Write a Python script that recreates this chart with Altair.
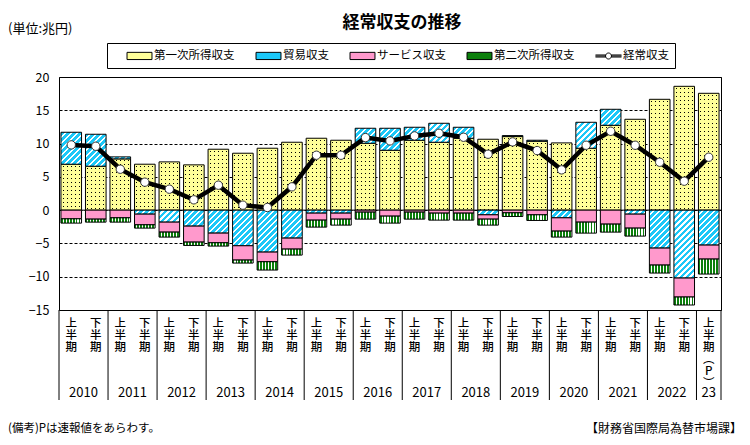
import altair as alt

FONT = "Noto Sans CJK JP"

# ---------------- data ----------------
periods = ["2010上", "2010下", "2011上", "2011下", "2012上", "2012下", "2013上", "2013下",
           "2014上", "2014下", "2015上", "2015下", "2016上", "2016下", "2017上", "2017下",
           "2018上", "2018下", "2019上", "2019下", "2020上", "2020下", "2021上", "2021下",
           "2022上", "2022下", "2023上"]
year_starts = ["2010上", "2011上", "2012上", "2013上", "2014上", "2015上", "2016上",
               "2017上", "2018上", "2019上", "2020上", "2021上", "2022上", "2023上"]
year_labels = ["2010", "2011", "2012", "2013", "2014", "2015", "2016",
               "2017", "2018", "2019", "2020", "2021", "2022", "23"]

series_names = ["第一次所得収支", "貿易収支", "サービス収支", "第二次所得収支", "経常収支"]

primary = [6.9, 6.6, 7.7, 6.9, 7.25, 6.8, 9.15, 8.55, 9.3, 10.2, 10.8, 10.5, 10.05, 9.0,
           10.5, 10.2, 10.8, 10.65, 11.05, 10.35, 10.1, 9.3, 12.75, 13.65, 16.65, 18.6, 17.55]
trade = [4.8, 4.8, 0.3, -0.6, -1.8, -2.4, -3.45, -5.35, -6.3, -4.2, -0.45, -0.45, 2.25, 3.3,
         1.95, 2.85, 1.65, -0.7, 0.15, 0.15, -1.15, 3.9, 2.4, -0.6, -5.7, -10.2, -5.25]
services = [-1.3, -1.35, -1.15, -1.6, -1.5, -2.4, -1.45, -2.15, -1.45, -1.65, -1.05, -0.9,
            -0.3, -0.9, -0.3, -0.45, -0.45, -0.65, -0.4, -0.7, -2.0, -1.8, -2.1, -2.1,
            -2.55, -2.85, -2.1]
secondary = [-0.65, -0.45, -0.65, -0.5, -0.75, -0.5, -0.5, -0.45, -1.25, -0.9, -1.05, -0.9,
             -1.05, -1.05, -1.05, -1.05, -1.05, -0.9, -0.55, -0.85, -0.9, -1.65, -1.2, -1.2,
             -1.2, -1.2, -2.25]
current = [9.8, 9.6, 6.15, 4.2, 3.15, 1.55, 3.75, 0.75, 0.4, 3.5, 8.25, 8.25, 10.9, 10.4,
           11.15, 11.55, 10.95, 8.4, 10.25, 8.95, 6.05, 9.75, 11.85, 9.75, 7.2, 4.35, 7.95]

# ---------------- style ----------------
YEL = "#FFFF99"
CYAN = "#1CC8F8"
PINK = "#FF99CC"
GREEN = "#0B7F0B"

W, H = 662, 233
YMIN, YMAX = -15, 20
PPU = H / (YMAX - YMIN)          # pixels per unit (for pattern sizing)
BAR_FRAC = 0.84
BW = W / len(periods) * BAR_FRAC  # bar width in pixels


def r(v):
    return round(v, 4)


def diag_gradient(h, period=6.0, gap=2.2):
    """cyan with white '/' hatching, sized to the bar in pixels"""
    w = BW
    h = max(h, 0.5)
    L = w + h
    k = L / (w * w + h * h)
    stops = []
    x = 0.0
    while x < L:
        a = x / L
        b = min((x + period - gap) / L, 1.0)
        c = min((x + period) / L, 1.0)
        stops += [{"offset": r(a), "color": CYAN}, {"offset": r(b), "color": CYAN}]
        if b < 1.0:
            stops += [{"offset": r(b), "color": "#ffffff"}, {"offset": r(c), "color": "#ffffff"}]
        x += period
    return {"gradient": "linear", "x1": 0, "y1": 0, "x2": r(k * w), "y2": r(k * h), "stops": stops}


def rows_gradient(h, period=4.0):
    """yellow with thin black rows (combined with column mask -> dots)"""
    h = max(h, 0.5)
    stops = [{"offset": 0, "color": YEL}]
    y = 1.5
    while y + 1.0 < h:
        a, b = r(y / h), r((y + 1.0) / h)
        stops += [{"offset": a, "color": YEL}, {"offset": a, "color": "#000000"},
                  {"offset": b, "color": "#000000"}, {"offset": b, "color": YEL}]
        y += period
    stops.append({"offset": 1, "color": YEL})
    return {"gradient": "linear", "x1": 0, "y1": 0, "x2": 0, "y2": 1, "stops": stops}


# yellow overlay with transparent columns
col_stops = []
cx = 0.0
while cx < BW:
    a = min((cx + 1.8) / BW, 1.0)
    b = min((cx + 2.8) / BW, 1.0)
    col_stops += [alt.GradientStop(offset=r(cx / BW), color=YEL), alt.GradientStop(offset=r(a), color=YEL),
                  alt.GradientStop(offset=r(a), color="rgba(255,255,153,0)"),
                  alt.GradientStop(offset=r(b), color="rgba(255,255,153,0)"),
                  alt.GradientStop(offset=r(b), color=YEL)]
    cx += 4.0
col_stops.append(alt.GradientStop(offset=1, color=YEL))
col_grad = alt.LinearGradient(gradient="linear", x1=0, y1=0, x2=1, y2=0, stops=col_stops)

# green with white vertical stripes
g_stops = []
n_str = 7
for j in range(n_str):
    a, b, c = j / n_str, (j + 0.62) / n_str, (j + 1) / n_str
    g_stops += [alt.GradientStop(offset=r(a), color=GREEN), alt.GradientStop(offset=r(b), color=GREEN),
                alt.GradientStop(offset=r(b), color="#ffffff"), alt.GradientStop(offset=r(c), color="#ffffff")]
green_grad = alt.LinearGradient(gradient="linear", x1=0, y1=0, x2=1, y2=0, stops=g_stops)

# ---------------- table ----------------
records = []
for i, p in enumerate(periods):
    for k, (key, vals) in enumerate([("primary", primary), ("trade", trade),
                                     ("services", services), ("secondary", secondary)]):
        v = vals[i]
        rec = {"period": p, "s": key, "order": k, "value": v}
        if key == "trade":
            rec["g"] = diag_gradient(abs(v) * PPU)
        elif key == "primary":
            rec["g"] = rows_gradient(abs(v) * PPU)
        records.append(rec)

ca_rows = [{"period": p, "ca": v} for p, v in zip(periods, current)]
year_rows = [{"period": p, "y": t} for p, t in zip(year_starts, year_labels)]

# ---------------- encodings ----------------
label_expr = ("datum.value == '2023上' ? ['上','半','期','︵','P','︶'] : "
              "(indexof(datum.value, '上') >= 0 ? ['上','半','期'] : ['下','半','期'])")
xscale = alt.Scale(domain=periods, paddingInner=0, paddingOuter=0)
xaxis = alt.Axis(title=None, labelExpr=label_expr, labelAngle=0, labelBaseline="top",
                 labelPadding=7, labelLineHeight=12, labelFont=FONT, labelFontSize=11.5,
                 labelFontWeight=500, labelColor="black", ticks=False, domain=False, grid=False,
                 labelOverlap=False)
X = alt.X("period:N", scale=xscale, axis=xaxis)

yscale = alt.Scale(domain=[YMIN, YMAX], nice=False, zero=False)
yaxis = alt.Axis(title=None, values=list(range(-15, 21, 5)), grid=True, gridColor="black",
                 gridDash=[3, 2], gridWidth=1, ticks=False, domain=False, labelPadding=10,
                 labelFont=FONT, labelFontSize=12.5, labelColor="black")

base = alt.Chart(alt.Data(values=records)).transform_stack(
    stack="value", groupby=["period"], as_=["v0", "v1"], sort=[alt.SortField(field="order")]
)


def bars(key, **mark):
    return base.transform_filter(alt.datum.s == key).mark_bar(
        width=alt.RelativeBandSize(BAR_FRAC), **mark
    ).encode(x=X, y=alt.Y("v0:Q", scale=yscale, axis=yaxis), y2="v1:Q")


prim_rows = bars("primary", strokeWidth=0).encode(fill=alt.Fill("g:N", scale=None))
prim_cols = bars("primary", fill=col_grad, stroke="black", strokeWidth=1)
trade_bar = bars("trade", stroke="black", strokeWidth=1).encode(fill=alt.Fill("g:N", scale=None))
serv_bar = bars("services", fill=PINK, stroke="black", strokeWidth=1)
sec_bar = bars("secondary", fill=green_grad, stroke="black", strokeWidth=1)

zero_rule = alt.Chart(alt.Data(values=[{"z": 0}])).mark_rule(color="black", strokeWidth=1).encode(
    y=alt.Y("z:Q", scale=yscale, axis=yaxis)
)

ca_line = alt.Chart(alt.Data(values=ca_rows)).mark_line(color="black", strokeWidth=4.5).encode(
    x=X, y=alt.Y("ca:Q", scale=yscale, axis=yaxis)
)
ca_pts = alt.Chart(alt.Data(values=ca_rows)).mark_point(
    shape="circle", filled=True, fill="white", stroke="#333333", strokeWidth=1, size=70, opacity=1
).encode(x=X, y=alt.Y("ca:Q", scale=yscale, axis=yaxis))

# legend (from an empty layer carrying fill + shape scales)
RECT = "M-2.08,-0.6H2.08V0.6H-2.08Z"
LINE_SYM = ("M-2.17,-0.17H-0.5M-2.17,0H-0.5M-2.17,0.17H-0.5"
            "M0.5,-0.17H2.17M0.5,0H2.17M0.5,0.17H2.17"
            "M0.5,0A0.5,0.5,0,1,1,-0.5,0A0.5,0.5,0,1,1,0.5,0Z")
leg = alt.Legend(title=None, orient="none", legendX=48, legendY=-34, direction="horizontal",
                 columns=5, padding=6, strokeColor="black", fillColor="white",
                 symbolSize=144, symbolStrokeColor="black", symbolStrokeWidth=1, symbolOpacity=1,
                 symbolOffset=20, labelOffset=8, columnPadding=7, labelFont=FONT,
                 labelFontSize=11.5, labelColor="black", labelLimit=300)
legend_layer = alt.Chart(alt.Data(values=[{"series": n} for n in series_names])).transform_filter(
    "false"
).mark_point(filled=True).encode(
    fill=alt.Fill("series:N", scale=alt.Scale(domain=series_names,
                                              range=[YEL, CYAN, PINK, GREEN, "white"]), legend=leg),
    shape=alt.Shape("series:N", scale=alt.Scale(domain=series_names,
                                                range=[RECT, RECT, RECT, RECT, LINE_SYM]), legend=leg),
)

# separators and year labels below the axis
seps = alt.Chart(alt.Data(values=[{"period": p} for p in year_starts])).mark_rule(
    color="black", strokeWidth=1
).encode(x=alt.X("period:N", scale=xscale, axis=xaxis, bandPosition=0),
         y=alt.value(H), y2=alt.value(H + 90))
sep_end = alt.Chart(alt.Data(values=[{"e": 1}])).mark_rule(color="black", strokeWidth=1).encode(
    x=alt.value(W), y=alt.value(H), y2=alt.value(H + 90)
)
years_full = alt.Chart(alt.Data(values=year_rows[:-1])).mark_text(
    font=FONT, fontSize=13, color="black", baseline="middle", dx=W / len(periods) / 2
).encode(x=X, y=alt.value(H + 82.5), text="y:N")
years_last = alt.Chart(alt.Data(values=year_rows[-1:])).mark_text(
    font=FONT, fontSize=13, color="black", baseline="middle"
).encode(x=X, y=alt.value(H + 82.5), text="y:N")


def note(text, x, y, size, align="left", weight="normal"):
    return alt.Chart(alt.Data(values=[{"t": text}])).mark_text(
        font=FONT, fontSize=size, fontWeight=weight, align=align, baseline="middle", color="black"
    ).encode(text="t:N", x=alt.value(x), y=alt.value(y))


title = note("経常収支の推移", 343, -54, 17, align="center", weight="bold")
unit = note("(単位:兆円)", -51, -48, 13)
foot_l = note("(備考)Pは速報値をあらわす。", -51, 352, 11.5)
foot_r = note("【財務省国際局為替市場課】", 683, 352, 12, align="right")

chart = alt.layer(
    zero_rule, prim_rows, prim_cols, trade_bar, serv_bar, sec_bar, ca_line, ca_pts,
    legend_layer, seps, sep_end, years_full, years_last, title, unit, foot_l, foot_r
).properties(
    width=W, height=H,
    padding={"left": 51, "top": 69, "right": 21, "bottom": 126},
    autosize=alt.AutoSizeParams(type="none"),
).configure_view(stroke="black", strokeWidth=1)

chart.save("out.html", embed_options={"renderer": "svg", "actions": False})
